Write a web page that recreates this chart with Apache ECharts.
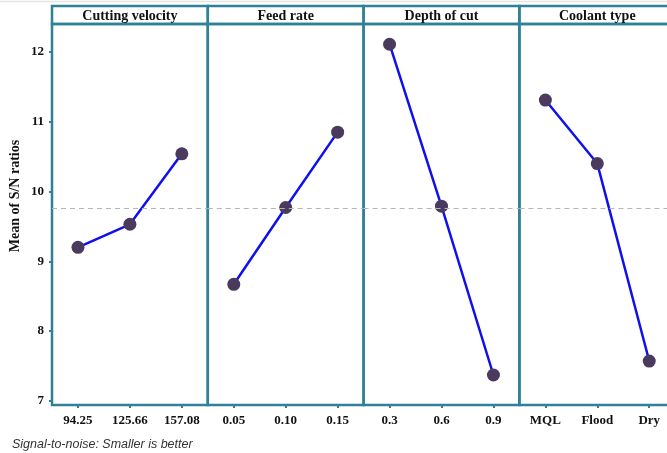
<!DOCTYPE html>
<html>
<head>
<meta charset="utf-8">
<script src="https://cdn.jsdelivr.net/npm/echarts@6/dist/echarts.min.js"></script>
<style>
html,body{margin:0;padding:0;background:#fff;overflow:hidden;width:667px;height:453px;}
#chart{width:684px;height:453px;}
</style>
</head>
<body>
<div id="chart"></div>
<script>
// ---- data ----
var panelTitles = ['Cutting velocity', 'Feed rate', 'Depth of cut', 'Coolant type'];
var cuttingVelocityLevels = ['94.25', '125.66', '157.08'];
var feedRateLevels = ['0.05', '0.10', '0.15'];
var depthOfCutLevels = ['0.3', '0.6', '0.9'];
var coolantLevels = ['MQL', 'Flood', 'Dry'];
var cuttingVelocitySN = [9.20, 9.53, 10.54];
var feedRateSN = [8.67, 9.77, 10.85];
var depthOfCutSN = [12.11, 9.79, 7.37];
var coolantSN = [11.31, 10.40, 7.57];
var meanSN = 9.76;
var yTicks = [7, 8, 9, 10, 11, 12];

var levels = [cuttingVelocityLevels, feedRateLevels, depthOfCutLevels, coolantLevels];
var values = [cuttingVelocitySN, feedRateSN, depthOfCutSN, coolantSN];

// ---- layout ----
var teal = '#2f8196';
var serif = '"Liberation Serif", "Times New Roman", serif';
var gLeft = 52, gW = 155.8, gTop = 24, gH = 381, hTop = 6;

var grids = [], xAxes = [], yAxes = [], series = [], graphics = [];
graphics.push({type:'line', shape:{x1:0, y1:1.5, x2:684, y2:1.5}, style:{stroke:'#e4e4e4', lineWidth:1.5}, silent:true});

for (var i = 0; i < 4; i++) {
  var left = gLeft + i * gW;
  grids.push({left:left, top:gTop, width:gW, height:gH, show:true, borderColor:teal, borderWidth:2.5, backgroundColor:'transparent', containLabel:false});
  xAxes.push({
    type:'category', gridIndex:i, data:levels[i], boundaryGap:true,
    axisLine:{show:false},
    axisTick:{show:true, alignWithLabel:true, length:3, lineStyle:{color:teal, width:2}},
    axisLabel:{fontFamily:serif, fontWeight:'bold', fontSize:13, color:'#111', margin:9},
    splitLine:{show:false}
  });
  yAxes.push({
    type:'value', gridIndex:i, min:6.94, max:12.4,
    axisLine:{show:false},
    axisTick:{show:i === 0, length:3, customValues:yTicks, lineStyle:{color:teal, width:2}},
    axisLabel:{show:i === 0, customValues:yTicks, fontFamily:serif, fontWeight:'bold', fontSize:13, color:'#111', margin:8},
    splitLine:{show:false}
  });
  series.push({
    type:'line', xAxisIndex:i, yAxisIndex:i, data:values[i],
    symbol:'circle', symbolSize:13,
    lineStyle:{color:'#1010ee', width:2.5},
    itemStyle:{color:'#4a3a5e'},
    z:3,
    markLine:{
      silent:true, symbol:'none', label:{show:false},
      lineStyle:{color:'#b5b5b5', type:[5,4], width:1.2},
      data:[{yAxis:meanSN}]
    }
  });
  graphics.push({type:'rect', shape:{x:left, y:hTop, width:gW, height:gTop - hTop},
    style:{fill:'none', stroke:teal, lineWidth:2.5}, silent:true});
  graphics.push({type:'text', x:left + gW / 2, y:(hTop + gTop) / 2 + 1,
    style:{text:panelTitles[i], font:'bold 14px ' + serif, fill:'#111', align:'center', verticalAlign:'middle'}, silent:true});
}

graphics.push({type:'text', x:15, y:196, rotation:Math.PI / 2,
  style:{text:'Mean of S/N ratios', font:'bold 14px ' + serif, fill:'#111', align:'center', verticalAlign:'middle'}, silent:true});
graphics.push({type:'text', x:12, y:445,
  style:{text:'Signal-to-noise: Smaller is better', font:'italic 12.5px "Liberation Sans", Arial, sans-serif', fill:'#333', align:'left', verticalAlign:'middle'}, silent:true});

var chart = echarts.init(document.getElementById('chart'));
chart.setOption({
  animation:false,
  backgroundColor:'#fff',
  grid:grids, xAxis:xAxes, yAxis:yAxes, series:series,
  graphic:graphics
});
</script>
</body>
</html>
